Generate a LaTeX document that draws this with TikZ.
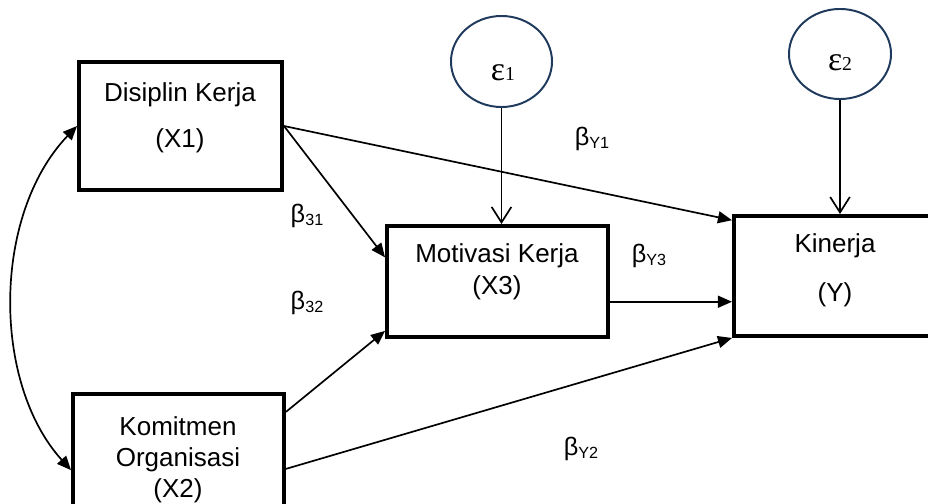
\documentclass[tikz,border=0pt]{standalone}
\usepackage{fontspec}
\setmainfont{Liberation Sans}
\newfontfamily\epsfont{Liberation Serif}
\usepackage{xcolor}
\usetikzlibrary{arrows.meta, calc, shapes.geometric}

\definecolor{errline}{HTML}{1F3A5C}
\newcommand{\bcoef}[1]{{\fontsize{18}{18}\selectfont β}\raisebox{-0.35ex}{\fontsize{11.5}{11.5}\selectfont #1}}
\newcommand{\errterm}[1]{{\epsfont\fontsize{24}{24}\selectfont ε{\fontsize{14}{14}\selectfont #1}}}

\begin{document}
\begin{tikzpicture}[
    x=0.025cm, y=-0.025cm,
    var/.style={rectangle, draw, line width=2.8pt},
    vtxt/.style={align=center, font=\fontsize{18.5}{22}\selectfont},
    err/.style={ellipse, draw=errline, line width=1.4pt, inner sep=0pt},
    coef/.style={inner sep=0pt},
    path/.style={-{Triangle[length=10pt, width=8.5pt]}, line width=1.2pt},
    dist/.style={-{Straight Barb[length=11pt, width=14pt]}, line width=1.2pt},
    corr/.style={{Triangle[length=10pt, width=8.5pt]}-{Triangle[length=10pt, width=8.5pt]}, line width=1.2pt}
]
\clip (0,0) rectangle (928,504);

% Variables
\node[var, minimum width=5.075cm, minimum height=3.2cm] (dk) at (180.5,126) {};
\node[var, minimum width=5.275cm, minimum height=3.0cm] (ko) at (178.5,454) {};
\node[var, minimum width=5.525cm, minimum height=2.775cm] (mk) at (497.5,281.5) {};
\node[var, minimum width=5.05cm, minimum height=3.0cm] (kin) at (835,276) {};

\node[vtxt] (dk-t) at (180,117.5) {Disiplin Kerja\\[10.7pt](X1)};
\node[vtxt] (ko-t) at (178,460) {Komitmen\\Organisasi\\(X2)};
\node[vtxt] (mk-t) at (497,271.5) {Motivasi Kerja\\[0.8pt](X3)};
\node[vtxt] (kin-t) at (835,270) {Kinerja\\[12.9pt](Y)};

% Error terms
\node[err, minimum width=2.525cm, minimum height=2.275cm] (e1) at (501.5,61.5) {};
\node[err, minimum width=2.55cm, minimum height=2.25cm] (e2) at (840,54) {};
\node (e1-t) at (503,73) {\errterm{1}};
\node (e2-t) at (840,63) {\errterm{2}};

\draw[dist] (e1) -- (e1 |- mk.north);
\draw[dist] (e2) -- (e2 |- kin.north);

% Paths
\draw[path] (dk.east) -- ($(kin.north west)!0.05!(kin.south west)$);
\draw[path] (dk.east) -- ($(mk.north west)!0.29!(mk.south west)$);
\draw[path] ($(ko.north east)!0.16!(ko.south east)$) -- ($(mk.north west)!0.93!(mk.south west)$);
\draw[path] ($(ko.north east)!0.62!(ko.south east)$) -- (kin.south west);
\coordinate (mk-out) at ($(mk.north east)!0.676!(mk.south east)$);
\draw[path] (mk-out) -- (mk-out -| kin.west);

% Correlation X1 -- X2
\draw[corr] (dk.west) .. controls (-8,215) and (-8,383) .. ($(ko.north west)!0.63!(ko.south west)$);

% Coefficients
\node[coef] (b31) at (307,216) {\bcoef{31}};
\node[coef] (b32) at (307,303) {\bcoef{32}};
\node[coef] (by1) at (592,139) {\bcoef{Y1}};
\node[coef] (by3) at (649,256) {\bcoef{Y3}};
\node[coef] (by2) at (581,449) {\bcoef{Y2}};
\end{tikzpicture}
\end{document}
